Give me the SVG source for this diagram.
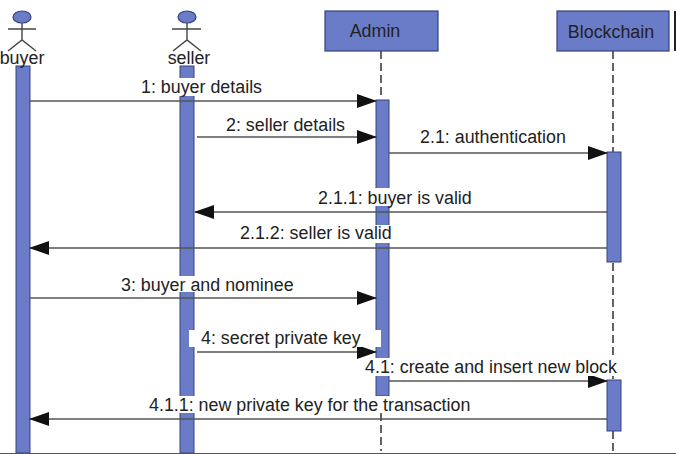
<svg xmlns="http://www.w3.org/2000/svg" width="676" height="454" viewBox="0 0 676 454">
<defs>
<marker id="ah" viewBox="0 0 20 14" refX="19" refY="7" markerWidth="20" markerHeight="14" markerUnits="userSpaceOnUse" orient="auto"><path d="M0 0L20 7L0 14Z" fill="#111"/></marker>
</defs>
<style>
text{font-family:"Liberation Sans",Arial,sans-serif;font-size:17.85px;fill:#222}
.bar{fill:#6a7cc8;stroke:#36427c;stroke-width:1}
.head{fill:#6a7cc8;stroke:#36427c;stroke-width:1.2}
.ln{stroke:#444;stroke-width:1.4;fill:none}
.ll{stroke:#222;stroke-width:1.4;stroke-dasharray:8 4;fill:none}
.msg{stroke:#555;stroke-width:1.4;fill:none;marker-end:url(#ah)}
.gap{fill:#fff}
</style>
<g id="lifelines">
<line class="ll" x1="381" y1="51" x2="381" y2="99"/>
<line class="ll" x1="381" y1="413" x2="381" y2="451"/>
<line class="ll" x1="613" y1="51" x2="613" y2="152"/>
<line class="ll" x1="613" y1="263" x2="613" y2="380"/>
<line class="ll" x1="613" y1="431" x2="613" y2="451"/>
</g>
<g id="buyer">
<ellipse class="head" cx="22" cy="17" rx="9" ry="6"/>
<path class="ln" d="M8 29H36M22 23V40M8 51L22 40L36 51"/>
<rect class="bar" x="16" y="66" width="14" height="387"/>
<text x="22" y="64" text-anchor="middle">buyer</text>
</g>
<g id="seller">
<ellipse class="head" cx="187" cy="17" rx="9" ry="6"/>
<path class="ln" d="M172 29H201M187 23V40M173 51L187 40L201 51"/>
<rect class="bar" x="180" y="66" width="14" height="387"/>
<text x="189" y="64" text-anchor="middle">seller</text>
</g>
<g id="admin">
<rect class="head" x="325" y="11" width="113" height="40"/>
<text x="375" y="37" text-anchor="middle">Admin</text>
<rect class="bar" x="376" y="100" width="13" height="296"/>
</g>
<g id="blockchain">
<rect class="head" x="557" y="11" width="112" height="40"/>
<text x="611" y="38" text-anchor="middle">Blockchain</text>
<line x1="675" y1="11" x2="675" y2="51" stroke="#222" stroke-width="2"/>
<rect class="bar" x="607" y="152" width="14" height="110"/>
<rect class="bar" x="607" y="380" width="14" height="51"/>
</g>
<g id="connectors">
<line class="msg" x1="30" y1="101" x2="376" y2="101"/>
<line class="msg" x1="197" y1="137" x2="376" y2="137"/>
<line class="msg" x1="389" y1="153" x2="607" y2="153"/>
<line class="msg" x1="607" y1="212" x2="195" y2="212"/>
<line class="msg" x1="607" y1="248" x2="30" y2="248"/>
<line class="msg" x1="30" y1="298" x2="376" y2="298"/>
<line class="msg" x1="197" y1="352" x2="376" y2="352"/>
<line class="msg" x1="389" y1="381" x2="607" y2="381"/>
<line class="msg" x1="607" y1="419" x2="30" y2="419"/>
</g>
<g id="labels">
<rect class="gap" x="142" y="78" width="120" height="18"/>
<text x="141" y="93">1: buyer details</text>
<rect class="gap" x="225" y="116" width="121" height="17"/>
<text x="226" y="131">2: seller details</text>
<text x="420" y="143">2.1: authentication</text>
<rect class="gap" x="318" y="188" width="154" height="18"/>
<text x="318" y="204">2.1.1: buyer is valid</text>
<rect class="gap" x="240" y="225" width="152" height="18"/>
<text x="240" y="239">2.1.2: seller is valid</text>
<rect class="gap" x="122" y="276" width="173" height="16"/>
<text x="121" y="291">3: buyer and nominee</text>
<rect class="gap" x="189" y="330" width="192" height="17"/>
<text x="201" y="344">4: secret private key</text>
<rect class="gap" x="365" y="358" width="253" height="18"/>
<text x="365" y="373">4.1: create and insert new block</text>
<rect class="gap" x="150" y="396" width="321" height="17"/>
<text x="149" y="411">4.1.1: new private key for the transaction</text>
</g>
<line x1="0" y1="453.500" x2="676" y2="453.500" stroke="#555" stroke-width="1"/>
</svg>
